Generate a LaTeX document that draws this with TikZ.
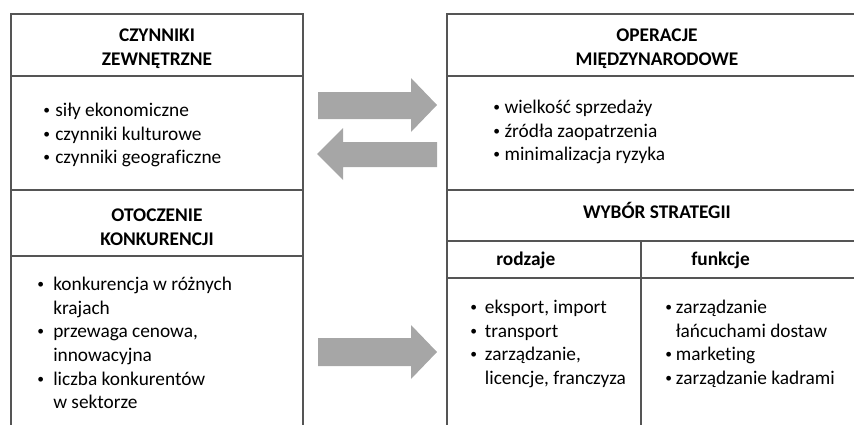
\documentclass[tikz,border=0pt]{standalone}
\usepackage{fontspec}
\setmainfont{Carlito}[Ligatures=NoCommon]
\usetikzlibrary{positioning}
\definecolor{szary}{RGB}{166,166,166}
\definecolor{ramka}{RGB}{85,85,85}
\newcommand{\pkt}[1][10pt]{\makebox[#1][l]{\raisebox{0.1em}{\scalebox{0.7}{\textbullet}}}}
\newcommand{\wc}[1][10pt]{\hspace*{#1}}

\begin{document}
\begin{tikzpicture}[x=0.75pt,y=-0.75pt]
		\tikzstyle{every node}+=[inner sep=0pt, font=\fontsize{14.5}{17.7}\selectfont]
		\tikzstyle{naglowek}=[font=\fontsize{14.5}{17.8}\selectfont\bfseries, align=center]
		\tikzstyle{lista}=[align=left, anchor=north west]
		\tikzstyle{linia}=[draw=ramka, line width=1pt]
		\useasboundingbox (0,0) rectangle (854,425);
		\clip (0,0) rectangle (854,425);
		% lewa kolumna
		\draw [linia] (11,440) -- (11,14) -- (303,14) -- (303,440);
		\draw [linia] (11,76) -- (303,76);
		\draw [linia] (11,190) -- (303,190);
		\draw [linia] (11,256) -- (303,256);
		\node [naglowek] (czynniki) at (157,49) {CZYNNIKI\\ZEWNĘTRZNE};
		\node [lista] (czynnikiLista) at (43,103) {\pkt[9pt]siły ekonomiczne\\ \pkt[9pt]czynniki kulturowe\\ \pkt[9pt]czynniki geograficzne};
		\node [naglowek] (otoczenie) at (157,227) {OTOCZENIE\\KONKURENCJI};
		\node [lista] (otoczenieLista) at (37,277) {\pkt[12pt]konkurencja w różnych\\ \wc[12pt]krajach\\ \pkt[12pt]przewaga cenowa,\\ \wc[12pt]innowacyjna\\ \pkt[12pt]liczba konkurentów\\ \wc[12pt]w sektorze};
		% prawa kolumna
		\draw [linia] (447,440) -- (447,14) -- (880,14);
		\draw [linia] (447,76) -- (880,76);
		\draw [linia] (447,190) -- (880,190);
		\draw [linia] (447,241) -- (880,241);
		\draw [linia] (447,278) -- (880,278);
		\draw [linia] (641,241) -- (641,440);
		\node [naglowek] (operacje) at (657,49) {OPERACJE\\MIĘDZYNARODOWE};
		\node [lista] (operacjeLista) at (493,100) {\pkt[8.5pt]wielkość sprzedaży\\ \pkt[8.5pt]źródła zaopatrzenia\\ \pkt[8.5pt]minimalizacja ryzyka};
		\node [naglowek, anchor=base] (wybor) at (657,218) {WYBÓR STRATEGII};
		\node [naglowek, anchor=base west] (rodzaje) at (496,265) {rodzaje};
		\node [naglowek, anchor=base west] (funkcje) at (691,265) {funkcje};
		\node [lista] (rodzajeLista) at (470,300) {\pkt[11pt]eksport, import\\ \pkt[11pt]transport\\ \pkt[11pt]zarządzanie,\\ \wc[11pt]licencje, franczyza};
		\node [lista] (funkcjeLista) at (665,300) {\pkt[8pt]zarządzanie\\ \wc[8pt]łańcuchami dostaw\\ \pkt[8pt]marketing\\ \pkt[8pt]zarządzanie kadrami};
		% strzalki
		\fill [szary] (318,92) -- (411,92) -- (411,78) -- (437,105) -- (411,132) -- (411,119) -- (318,119) -- cycle;
		\fill [szary] (437,142) -- (343,142) -- (343,128) -- (317,154) -- (343,180) -- (343,167) -- (437,167) -- cycle;
		\fill [szary] (318,338) -- (411,338) -- (411,325) -- (437,352) -- (411,379) -- (411,366) -- (318,366) -- cycle;
\end{tikzpicture}
\end{document}
